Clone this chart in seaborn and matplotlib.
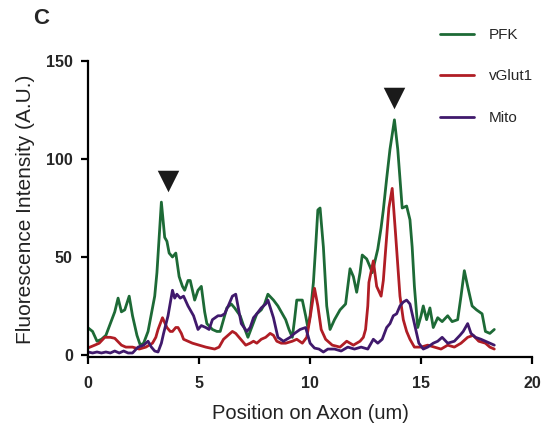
import numpy as np
import pandas as pd
import matplotlib
matplotlib.use("Agg")
import matplotlib.pyplot as plt
import seaborn as sns

# ---- data ----
pfk_x = [0.0, 0.2, 0.4, 0.6, 0.8, 1.0, 1.1, 1.2, 1.35, 1.5, 1.65, 1.85, 2.0, 2.2, 2.35, 2.5, 2.7, 2.9, 3.0, 3.1,
         3.2, 3.3, 3.45, 3.55, 3.65, 3.8, 3.95, 4.1, 4.25, 4.35, 4.5, 4.6, 4.8, 4.95, 5.1, 5.25, 5.35, 5.6, 5.8, 5.95,
         6.1, 6.25, 6.45, 6.6, 6.85, 7.0, 7.2, 7.4, 7.6, 7.8, 7.95, 8.1, 8.35, 8.55, 8.7, 8.9, 9.05, 9.2, 9.3, 9.4,
         9.65, 9.8, 9.9, 10.0, 10.15, 10.25, 10.35, 10.45, 10.6, 10.75, 10.9, 11.1, 11.35, 11.6, 11.8, 11.95, 12.1,
         12.25, 12.35, 12.55, 12.7, 12.8, 13.05, 13.2, 13.3, 13.45, 13.6, 13.8, 13.95, 14.05, 14.15, 14.35, 14.5,
         14.6, 14.7, 14.85, 15.0, 15.1, 15.25, 15.4, 15.55, 15.75, 15.95, 16.2, 16.4, 16.65, 16.8, 16.95, 17.1,
         17.3, 17.5, 17.75, 17.9, 18.1, 18.3]
pfk_y = [13.8, 12, 7, 8, 10, 16, 19, 22, 29, 22, 23, 30, 20, 10, 5, 6, 12, 24, 30, 42,
         60, 78, 60, 58, 52, 50, 52, 40, 35, 33, 38, 38, 28, 33, 35, 22, 16, 13, 12, 12,
         18, 24, 26, 24, 20, 15, 9, 15, 21, 23, 26, 31, 28, 25, 22, 18, 13, 9, 18, 28,
         28, 20, 14, 20, 37, 55, 74, 75, 55, 25, 13, 18, 23, 26, 44, 40, 32,
         42, 51, 49, 45, 42, 54, 65, 74, 90, 105, 120, 105, 90, 75, 76, 69,
         55, 35, 14, 20, 25, 18, 24, 14, 19, 17, 20, 17, 18, 30, 43, 35,
         25, 23, 21, 12, 11, 13]

vglut_x = [0.0, 0.3, 0.5, 0.75, 1.0, 1.2, 1.5, 1.7, 2.0, 2.3, 2.6, 2.9, 3.05, 3.15, 3.35, 3.55, 3.7, 3.8, 3.95,
           4.05, 4.2, 4.3, 4.5, 4.7, 5.0, 5.3, 5.7, 5.9, 6.1, 6.3, 6.5, 6.65, 6.8, 7.1, 7.3, 7.45, 7.6, 7.8, 8.0,
           8.2, 8.35, 8.5, 8.7, 8.9, 9.2, 9.4, 9.65, 9.85, 10.0, 10.2, 10.35, 10.5, 10.7, 11.0, 11.35, 11.65, 11.8,
           11.95, 12.25, 12.4, 12.5, 12.6, 12.65, 12.85, 13.0, 13.2, 13.3, 13.4, 13.55, 13.7, 13.85, 14.05, 14.2,
           14.35, 14.5, 14.7, 15.0, 15.3, 15.6, 15.9, 16.2, 16.5, 16.8, 17.1, 17.35, 17.6, 17.9, 18.1, 18.3]
vglut_y = [3.6, 5, 6, 9, 9, 8.5, 5, 4, 4, 3, 4, 6, 9, 13, 19, 14, 12, 12, 14,
           14, 11, 8, 7, 6, 5, 4, 3, 4, 8, 10, 12, 11, 9, 5, 6, 7, 6, 8, 9,
           11, 10, 7, 6, 6, 7, 8, 6, 9, 19, 34, 25, 13, 8, 5, 4, 7, 6,
           5, 7, 9, 13, 25, 37, 48, 35, 30, 38, 53, 75, 85, 62, 30, 18,
           12, 8, 4, 4, 5, 4, 3, 5, 4, 6, 9, 10, 7, 6, 4, 3]

mito_x = [0.0, 0.2, 0.4, 0.6, 0.8, 1.0, 1.2, 1.4, 1.6, 1.8, 2.0, 2.25, 2.5, 2.7, 2.85, 3.0, 3.15, 3.3, 3.4, 3.6,
          3.8, 3.9, 4.0, 4.15, 4.3, 4.5, 4.75, 4.95, 5.1, 5.3, 5.45, 5.6, 5.85, 6.0, 6.15, 6.35, 6.5, 6.65, 6.9,
          7.15, 7.3, 7.45, 7.6, 7.8, 8.0, 8.1, 8.35, 8.55, 8.8, 9.1, 9.3, 9.55, 9.8, 10.0, 10.2, 10.4, 10.6, 10.8,
          11.1, 11.4, 11.7, 12.0, 12.3, 12.6, 12.85, 13.05, 13.25, 13.45, 13.6, 13.75, 13.9, 14.05, 14.2, 14.35,
          14.5, 14.7, 14.9, 15.1, 15.3, 15.55, 15.75, 15.95, 16.2, 16.5, 16.75, 16.9, 17.0, 17.1, 17.25, 17.45,
          17.7, 17.9, 18.1, 18.3]
mito_y = [1.5, 1, 1.5, 1, 1.5, 1, 2, 1, 2, 1, 1, 4, 5, 7, 4, 2, 1.5, 6, 11, 20,
          33, 29, 31, 29, 30, 25, 20, 13, 15, 14, 13, 18, 20, 20, 21, 26, 30, 31, 16,
          12, 14, 19, 21, 24, 26, 28, 19, 9, 7, 9, 11, 13, 14, 6, 3.5, 3, 1.5, 3,
          3, 2, 4, 3, 4, 3, 8, 6, 8, 14, 16, 20, 21, 25, 27, 28,
          26, 16, 6, 3, 4, 6, 7, 9, 6, 7, 10, 12, 14, 16, 11, 9,
          8, 7, 6, 5]

series_names = ["PFK", "vGlut1", "Mito"]
series_colors = ["#1d6a36", "#b01d25", "#40196c"]

arrow_x = [3.6, 13.8]
arrow_y = [89, 131]

x_ticks = [0, 5, 10, 15, 20]
y_ticks = [0, 50, 100, 150]

# ---- build long-form table ----
df = pd.concat([
    pd.DataFrame({"x": pfk_x, "y": pfk_y, "series": "PFK"}),
    pd.DataFrame({"x": vglut_x, "y": vglut_y, "series": "vGlut1"}),
    pd.DataFrame({"x": mito_x, "y": mito_y, "series": "Mito"}),
], ignore_index=True)

sns.set_style("ticks")
plt.rcParams["font.family"] = ["Liberation Sans", "DejaVu Sans"]

fig = plt.figure(figsize=(5.44, 4.30), dpi=100)
ax = fig.add_axes([0.162, 0.170, 0.816, 0.688])

sns.lineplot(data=df, x="x", y="y", hue="series", hue_order=series_names,
             palette=dict(zip(series_names, series_colors)), estimator=None,
             sort=False, linewidth=2.0, ax=ax, legend=True)

ax.scatter(arrow_x, arrow_y, marker="v", s=240, color="#1a1a1a", zorder=5, linewidths=0)

ax.set_xlim(0, 20)
ax.set_ylim(-1, 150)
ax.set_xticks(x_ticks)
ax.set_yticks(y_ticks)
ax.set_xticklabels([str(t) for t in x_ticks], fontweight="bold", fontsize=11.5)
ax.set_yticklabels([str(t) for t in y_ticks], fontweight="bold", fontsize=11.5)
ax.tick_params(axis="x", direction="out", length=5, width=1.6, color="black", pad=9)
ax.tick_params(axis="y", direction="out", length=5, width=1.6, color="black", pad=6)
ax.spines["top"].set_visible(False)
ax.spines["right"].set_visible(False)
for s in ["left", "bottom"]:
    ax.spines[s].set_linewidth(1.6)
    ax.spines[s].set_color("black")

ax.set_xlabel("Position on Axon (um)", fontsize=14.5, color="#222222", labelpad=9)
ax.set_ylabel("Fluorescence Intensity (A.U.)", fontsize=15, color="#222222", labelpad=8)

handles, labels = ax.get_legend_handles_labels()
ax.get_legend().remove()
fig.legend(handles, labels, loc="upper left", bbox_to_anchor=(440 / 544, 1 - 28 / 430),
           frameon=False, fontsize=11, handlelength=2.2, handletextpad=1.0,
           labelspacing=1.8, borderpad=0, borderaxespad=0)

fig.text(33 / 544, 1 - 19 / 430, "C", fontsize=16, fontweight="bold", va="center", ha="left")

fig.savefig("out.png", dpi=100)
